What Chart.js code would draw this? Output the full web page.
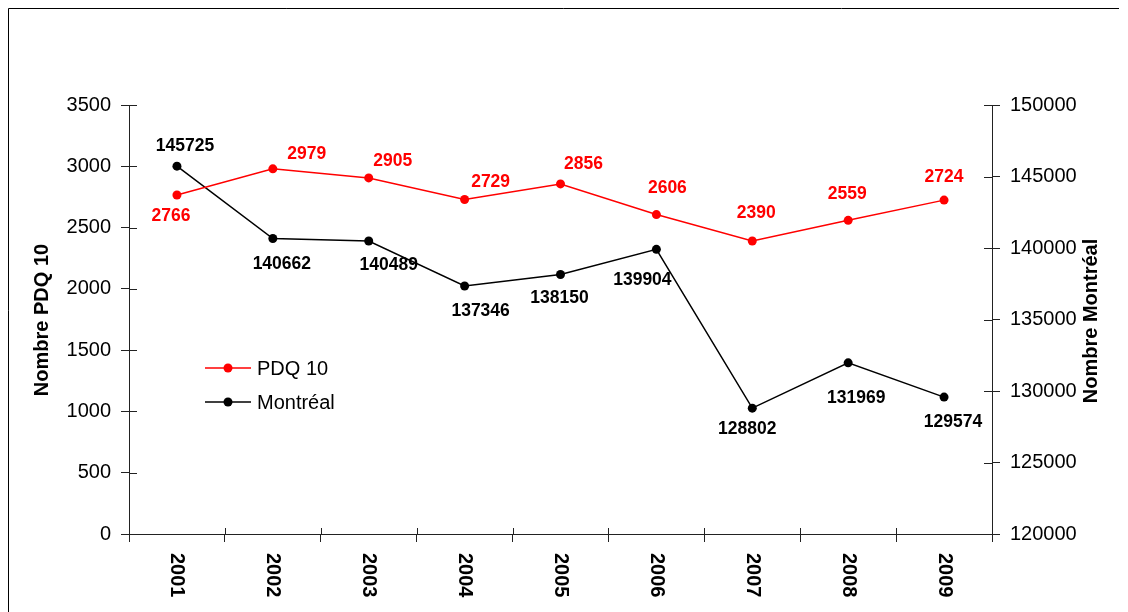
<!DOCTYPE html>
<html>
<head>
<meta charset="utf-8">
<script src="https://cdn.jsdelivr.net/npm/chart.js@4/dist/chart.umd.min.js"></script>
<style>
  html, body { margin: 0; padding: 0; background: #fff; }
  #wrap { width: 1128px; height: 612px; }
</style>
</head>
<body>
<div id="wrap"><canvas id="chart" width="1128" height="612"></canvas></div>
<script>
// données
const years = ['2001', '2002', '2003', '2004', '2005', '2006', '2007', '2008', '2009'];
const pdq10 = [2766, 2979, 2905, 2729, 2856, 2606, 2390, 2559, 2724];
const montreal = [145725, 140662, 140489, 137346, 138150, 139904, 128802, 131969, 129574];
const leftTicks = [0, 500, 1000, 1500, 2000, 2500, 3000, 3500];
const rightTicks = [120000, 125000, 130000, 135000, 140000, 145000, 150000];

// décalage des étiquettes de valeurs (style seulement)
const pdqLabelShift = [[-6, 21], [34, -15], [24, -17], [26, -17], [23, -20], [11, -26], [4, -28], [-1, -26], [0, -23]];
const mtlLabelShift = [[8, -20], [9, 26], [20, 24], [16, 25], [-1, 24], [-14, 31], [-5, 21], [8, 35], [9, 25]];

const FONT = '"Liberation Sans", Arial, sans-serif';
const AXIS = '#222';

const decorPlugin = {
  id: 'decor',
  afterDraw(chart) {
    const ctx = chart.ctx;
    const x = chart.scales.x, y = chart.scales.y, y1 = chart.scales.y1;
    ctx.save();

    // cadre
    ctx.strokeStyle = '#000';
    ctx.lineWidth = 1;
    ctx.beginPath();
    ctx.moveTo(8.5, 612);
    ctx.lineTo(8.5, 8.5);
    ctx.lineTo(1119, 8.5);
    ctx.stroke();

    // petites marques à l'intérieur des axes
    ctx.strokeStyle = AXIS;
    ctx.beginPath();
    leftTicks.forEach(v => {
      const py = Math.round(y.getPixelForValue(v)) + 0.5;
      ctx.moveTo(y.right, py); ctx.lineTo(y.right + 8, py);
    });
    rightTicks.forEach(v => {
      const py = Math.round(y1.getPixelForValue(v)) + 0.5;
      ctx.moveTo(y1.left, py); ctx.lineTo(y1.left - 8, py);
    });
    for (let i = 0; i <= years.length; i++) {
      const px = Math.round(x.getPixelForValue(i - 0.5)) + 0.5;
      ctx.moveTo(px, x.top); ctx.lineTo(px, x.top - 6);
    }
    ctx.stroke();

    // titres des axes
    ctx.fillStyle = '#000';
    ctx.font = 'bold 20px ' + FONT;
    ctx.textAlign = 'center';
    ctx.textBaseline = 'middle';
    ctx.save();
    ctx.translate(42, 320);
    ctx.rotate(-Math.PI / 2);
    ctx.fillText('Nombre PDQ 10', 0, 0);
    ctx.restore();
    ctx.save();
    ctx.translate(1091, 321);
    ctx.rotate(-Math.PI / 2);
    ctx.fillText('Nombre Montréal', 0, 0);
    ctx.restore();

    // étiquettes de l'axe X (tournées)
    ctx.textAlign = 'left';
    years.forEach((yr, i) => {
      ctx.save();
      ctx.translate(x.getPixelForValue(i), x.top + 19);
      ctx.rotate(Math.PI / 2);
      ctx.fillText(yr, 0, 0);
      ctx.restore();
    });

    // valeurs sur les points
    ctx.font = 'bold 17.5px ' + FONT;
    ctx.textAlign = 'center';
    const m0 = chart.getDatasetMeta(0), m1 = chart.getDatasetMeta(1);
    ctx.fillStyle = '#ff0000';
    m0.data.forEach((pt, i) => {
      ctx.fillText(String(pdq10[i]), pt.x + pdqLabelShift[i][0], pt.y + pdqLabelShift[i][1]);
    });
    ctx.fillStyle = '#000';
    m1.data.forEach((pt, i) => {
      ctx.fillText(String(montreal[i]), pt.x + mtlLabelShift[i][0], pt.y + mtlLabelShift[i][1]);
    });

    // légende
    const items = [['PDQ 10', '#ff0000', 368], ['Montréal', '#000', 402]];
    ctx.font = '20px ' + FONT;
    ctx.textAlign = 'left';
    items.forEach(([txt, col, ly]) => {
      ctx.strokeStyle = col;
      ctx.lineWidth = 1.5;
      ctx.beginPath();
      ctx.moveTo(205, ly); ctx.lineTo(251, ly);
      ctx.stroke();
      ctx.fillStyle = col;
      ctx.beginPath();
      ctx.arc(228, ly, 4.5, 0, Math.PI * 2);
      ctx.fill();
      ctx.fillStyle = '#000';
      ctx.fillText(txt, 257, ly + 1);
    });

    ctx.restore();
  }
};

new Chart(document.getElementById('chart'), {
  type: 'line',
  data: {
    labels: years,
    datasets: [
      {
        label: 'PDQ 10',
        data: pdq10,
        yAxisID: 'y',
        borderColor: '#ff0000',
        backgroundColor: '#ff0000',
        borderWidth: 1.5,
        pointRadius: 4.5,
        pointBorderWidth: 0,
        tension: 0
      },
      {
        label: 'Montréal',
        data: montreal,
        yAxisID: 'y1',
        borderColor: '#000',
        backgroundColor: '#000',
        borderWidth: 1.5,
        pointRadius: 4.5,
        pointBorderWidth: 0,
        tension: 0
      }
    ]
  },
  options: {
    responsive: false,
    animation: false,
    layout: { padding: { top: 105, left: 0, right: 0, bottom: 0 } },
    plugins: { legend: { display: false }, tooltip: { enabled: false } },
    scales: {
      x: {
        offset: true,
        grid: { display: true, drawOnChartArea: false, offset: true, tickLength: 8, color: AXIS },
        border: { display: true, color: AXIS },
        ticks: { display: false },
        afterFit: s => { s.height = 78; }
      },
      y: {
        position: 'left',
        min: 0,
        max: 3500,
        grid: { display: true, drawOnChartArea: false, tickLength: 8, color: AXIS },
        border: { display: true, color: AXIS },
        ticks: { stepSize: 500, color: '#000', padding: 10, font: { family: FONT, size: 20 }, callback: v => String(v) },
        afterFit: s => { s.width = 129; }
      },
      y1: {
        position: 'right',
        min: 120000,
        max: 150000,
        grid: { display: true, drawOnChartArea: false, tickLength: 8, color: AXIS },
        border: { display: true, color: AXIS },
        ticks: { stepSize: 5000, color: '#000', padding: 10, font: { family: FONT, size: 20 }, callback: v => String(v) },
        afterFit: s => { s.width = 136; }
      }
    }
  },
  plugins: [decorPlugin]
});
</script>
</body>
</html>
